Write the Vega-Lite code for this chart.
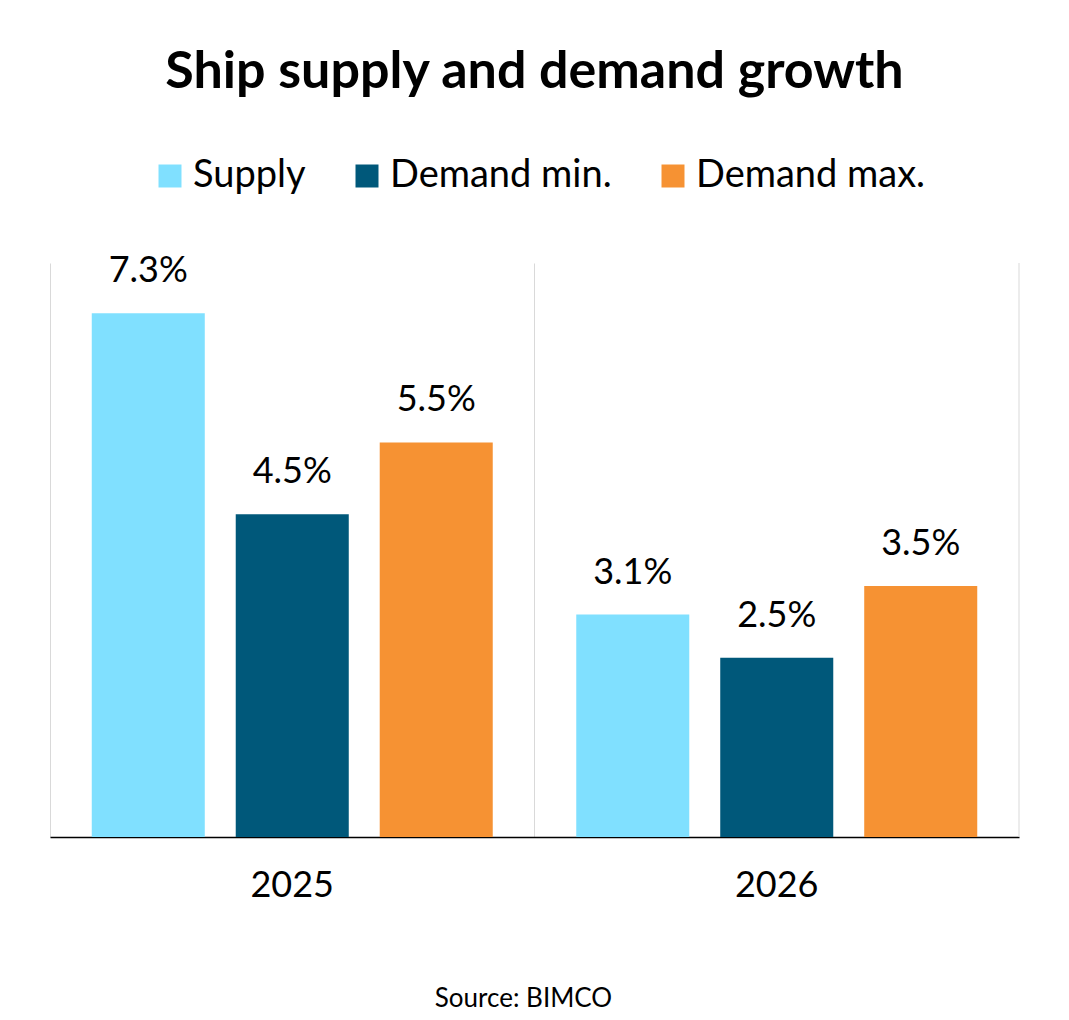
{
  "$schema": "https://vega.github.io/schema/vega-lite/v6.json",
  "width": 969,
  "height": 574,
  "autosize": {"type": "none"},
  "padding": {"left": 50, "top": 263, "right": 50, "bottom": 183},
  "background": "white",
  "config": {
    "font": "Lato",
    "view": {"stroke": null}
  },
  "title": {
    "text": "Ship supply and demand growth",
    "anchor": "middle",
    "frame": "group",
    "orient": "top",
    "fontSize": 52,
    "fontWeight": "bold",
    "font": "Lato",
    "color": "black",
    "baseline": "alphabetic",
    "offset": 17
  },
  "datasets": {
    "growth": [
      {"year": "2025", "series": "Supply", "value": 0.073},
      {"year": "2025", "series": "Demand min.", "value": 0.045},
      {"year": "2025", "series": "Demand max.", "value": 0.055},
      {"year": "2026", "series": "Supply", "value": 0.031},
      {"year": "2026", "series": "Demand min.", "value": 0.025},
      {"year": "2026", "series": "Demand max.", "value": 0.035}
    ]
  },
  "layer": [
    {
      "data": {"name": "growth"},
      "mark": {"type": "bar"},
      "encoding": {
        "x": {
          "field": "year",
          "type": "nominal",
          "scale": {"paddingInner": 0, "paddingOuter": 0},
          "axis": {
            "title": "Source: BIMCO",
            "titleFontSize": 26,
            "titleFontWeight": "normal",
            "titleColor": "black",
            "titlePadding": 82,
            "titleX": 473,
            "labelAngle": 0,
            "labelFontSize": 36,
            "labelColor": "black",
            "labelPadding": 31,
            "ticks": false,
            "domain": true,
            "domainColor": "black",
            "domainWidth": 1.5,
            "grid": true,
            "gridColor": "#d9d9d9",
            "gridWidth": 1,
            "bandPosition": 0
          }
        },
        "xOffset": {
          "field": "series",
          "type": "nominal",
          "sort": ["Supply", "Demand min.", "Demand max."],
          "scale": {"paddingInner": 0.215, "paddingOuter": 0.29}
        },
        "y": {
          "field": "value",
          "type": "quantitative",
          "scale": {"domain": [0, 0.08], "nice": false},
          "axis": null
        },
        "color": {
          "field": "series",
          "type": "nominal",
          "sort": ["Supply", "Demand min.", "Demand max."],
          "scale": {
            "domain": ["Supply", "Demand min.", "Demand max."],
            "range": ["#80E0FF", "#00587A", "#F69233"]
          },
          "legend": {
            "orient": "none",
            "legendX": 101,
            "legendY": -106,
            "direction": "horizontal",
            "title": null,
            "symbolType": "square",
            "symbolSize": 529,
            "symbolStrokeWidth": 0,
            "labelFontSize": 38,
            "labelColor": "black",
            "labelOffset": 4,
            "columnPadding": 42,
            "labelLimit": 400
          }
        }
      }
    },
    {
      "data": {"name": "growth"},
      "mark": {"type": "text", "baseline": "alphabetic", "dy": -31, "fontSize": 36, "color": "black"},
      "encoding": {
        "x": {"field": "year", "type": "nominal"},
        "xOffset": {"field": "series", "type": "nominal", "sort": ["Supply", "Demand min.", "Demand max."]},
        "y": {"field": "value", "type": "quantitative"},
        "text": {"field": "value", "type": "quantitative", "format": ".1%"}
      }
    },
    {
      "data": {"values": [{"year": "2026"}]},
      "mark": {"type": "rule", "color": "#d9d9d9", "strokeWidth": 1},
      "encoding": {
        "x": {"field": "year", "type": "nominal", "bandPosition": 1}
      }
    }
  ]
}
